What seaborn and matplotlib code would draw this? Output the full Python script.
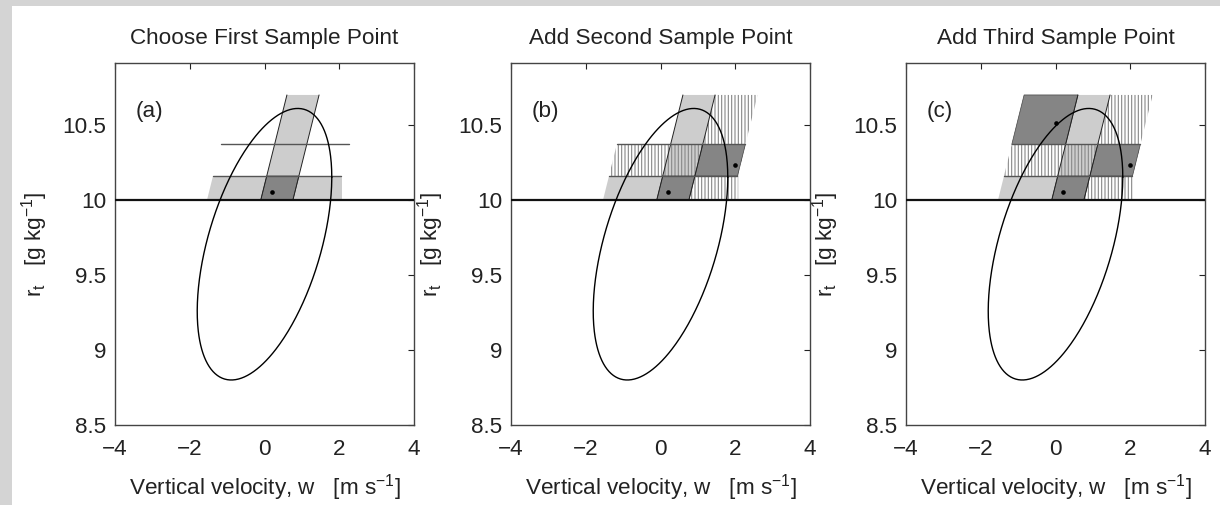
import numpy as np
import pandas as pd
import matplotlib.pyplot as plt
from matplotlib.patches import Polygon, Rectangle
import seaborn as sns

titles = ["Choose First Sample Point", "Add Second Sample Point", "Add Third Sample Point"]
panel_tags = ["(a)", "(b)", "(c)"]

# strata: column edges in w (taken along r = 10), sheared with r
col_edges = [-1.54, -0.10, 0.76, 1.90]
shear = 1.0          # shift in w per unit of r
r_base = 10.0
row_edges = [10.0, 10.16, 10.37, 10.70]
row1_right = 2.08

# sample points and the stratum (row, col) each one sits in
sample_w = [0.20, 2.00, 0.00]
sample_r = [10.05, 10.23, 10.51]
sample_row = [0, 1, 2]
sample_col = [1, 2, 0]

# contour of the joint pdf
ell_w0, ell_r0 = 0.0, 9.705
ell_aw, ell_ar = 1.80, 0.905
ell_phase = 60.4

xticks = [-4, -2, 0, 2, 4]
xticklabels = ["\u22124", "\u22122", "0", "2", "4"]
yticks = [8.5, 9, 9.5, 10, 10.5]
yticklabels = ["8.5", "9", "9.5", "10", "10.5"]

LIGHT = "#cdcdcd"
DARK = "#858585"
FS = 16.2

sns.set_theme(style="white")
plt.rcParams["font.family"] = ["Liberation Sans", "DejaVu Sans"]
plt.rcParams["mathtext.fontset"] = "custom"
plt.rcParams["mathtext.rm"] = "Liberation Sans"
plt.rcParams["mathtext.it"] = "Liberation Sans:italic"
plt.rcParams["hatch.linewidth"] = 0.8


def edge(i, r):
    return col_edges[i] + shear * (r - r_base)


def cell(c, k):
    r0, r1 = row_edges[k], row_edges[k + 1]
    return [(edge(c, r0), r0), (edge(c + 1, r0), r0), (edge(c + 1, r1), r1), (edge(c, r1), r1)]


def col_band(c):
    r0, r1 = row_edges[0], row_edges[-1]
    return [(edge(c, r0), r0), (edge(c + 1, r0), r0), (edge(c + 1, r1), r1), (edge(c, r1), r1)]


def row_band(k):
    r0, r1 = row_edges[k], row_edges[k + 1]
    return [(edge(0, r0), r0), (edge(3, r0), r0), (edge(3, r1), r1), (edge(0, r1), r1)]


t = np.deg2rad(np.linspace(0, 360, 400))
ellipse = pd.DataFrame({
    "w": ell_w0 + ell_aw * np.cos(t),
    "r": ell_r0 + ell_ar * np.cos(t - np.deg2rad(ell_phase)),
})

fig = plt.figure(figsize=(12.2, 5.05), dpi=100)
fig.patch.set_facecolor("#d4d4d4")
fig.add_artist(Rectangle((12 / 1220, 0), 1, 499 / 505, transform=fig.transFigure,
                         facecolor="white", edgecolor="none", zorder=0))

lefts = [115, 511, 906]
for p, left in enumerate(lefts):
    ax = fig.add_axes([left / 1220, 80 / 505, 299 / 1220, 362 / 505])
    ax.set_facecolor("white")
    n = p + 1

    # first row band (light), right end cut vertically
    r0, r1 = row_edges[0], row_edges[1]
    ax.add_patch(Polygon([(edge(0, r0), r0), (row1_right, r0), (row1_right, r1), (edge(0, r1), r1)],
                         facecolor=LIGHT, edgecolor="none", zorder=1))
    if n >= 2:
        # column of second point, hatched
        r_top = row_edges[-1]
        r_cross = r_base + (row1_right - col_edges[3]) / shear
        ax.add_patch(Polygon([(edge(2, r0), r0), (row1_right, r0), (row1_right, r_cross),
                              (edge(3, r_top), r_top), (edge(2, r_top), r_top)],
                             facecolor="white", edgecolor="#888888", linewidth=0,
                             hatch="|||||", zorder=2))
    ax.add_patch(Polygon(col_band(1), facecolor=LIGHT, edgecolor="none", zorder=3))
    if n >= 2:
        ax.add_patch(Polygon(row_band(1), facecolor="none", edgecolor="#888888", linewidth=0,
                             hatch="|||||", zorder=4))
    for s in range(n):
        ax.add_patch(Polygon(cell(sample_col[s], sample_row[s]), facecolor=DARK,
                             edgecolor="#444444", linewidth=0.5, zorder=5))

    # column edges of the first stratum
    for c in (1, 2):
        ax.plot([edge(c, row_edges[0]), edge(c, row_edges[-1])], [row_edges[0], row_edges[-1]],
                color="#222222", linewidth=0.7, zorder=6)
    # row boundaries
    for k in (1, 2):
        rr = row_edges[k]
        ax.plot([edge(0, rr), edge(3, rr)], [rr, rr], color="#555555", linewidth=1.0, zorder=6)
    ax.axhline(10, color="#111111", linewidth=1.6, zorder=6)

    sns.lineplot(data=ellipse, x="w", y="r", sort=False, estimator=None, color="black",
                 linewidth=1.0, ax=ax, zorder=7)
    pts = pd.DataFrame({"w": sample_w[:n], "r": sample_r[:n]})
    sns.scatterplot(data=pts, x="w", y="r", color="black", s=11, linewidth=0, ax=ax, zorder=8)

    ax.set_xlim(-4, 4)
    ax.set_ylim(8.5, 10.913)
    ax.set_xticks(xticks)
    ax.set_xticklabels(xticklabels)
    ax.set_yticks(yticks)
    ax.set_yticklabels(yticklabels)
    ax.tick_params(direction="in", top=True, right=True, length=4, width=0.8,
                   labelsize=FS, colors="#222222")
    ax.tick_params(axis="x", pad=10)
    ax.tick_params(axis="y", pad=6)
    for sp in ax.spines.values():
        sp.set_color("#444444")
        sp.set_linewidth(1.0)
    ax.set_xlabel(r"Vertical velocity, w   [m s$^{\mathregular{-1}}$]", fontsize=FS,
                  color="#222222", labelpad=9)
    ax.set_ylabel(r"r$_\mathregular{t}$   [g kg$^{\mathregular{-1}}$]", fontsize=FS,
                  color="#222222", labelpad=9)
    ax.set_title(titles[p], fontsize=FS, color="#222222", pad=14)
    ax.text(-3.45, 10.59, panel_tags[p], fontsize=FS, color="#222222", ha="left", va="center")

fig.savefig("out.png", dpi=100, facecolor=fig.get_facecolor())
